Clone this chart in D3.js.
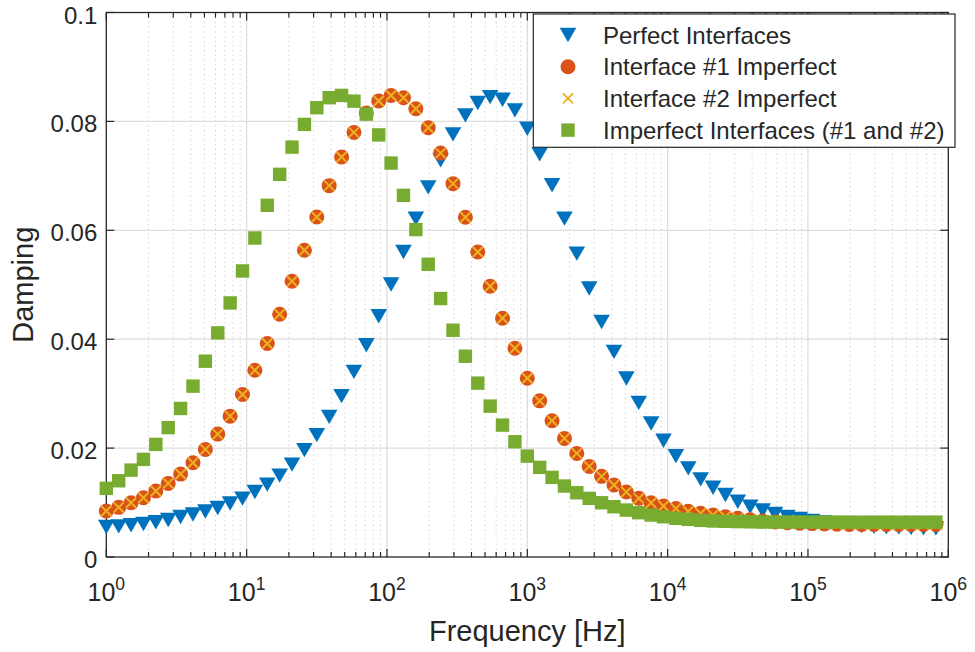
<!DOCTYPE html>
<html>
<head>
<meta charset="utf-8">
<script src="https://cdn.jsdelivr.net/npm/d3@7/dist/d3.min.js"></script>
<style>
  body { margin: 0; background: #fff; }
  svg text { font-family: "Liberation Sans", Arial, sans-serif; fill: #262626; }
</style>
</head>
<body>
<div id="chart"></div>
<script>
// frequencies [Hz], log spaced
var freq = [
  1, 1.2253, 1.5013, 1.8395, 2.2540, 2.7618, 3.3839, 4.1462, 5.0802, 6.2247,
  7.6270, 9.3452, 11.450, 14.030, 17.191, 21.064, 25.809, 31.623, 38.747, 47.476,
  58.171, 71.276, 87.333, 107.01, 131.11, 160.65, 196.84, 241.19, 295.52, 362.10,
  443.67, 543.62, 666.09, 816.15, 1000, 1225.3, 1501.3, 1839.5, 2254.0, 2761.8,
  3383.9, 4146.2, 5080.2, 6224.7, 7627.0, 9345.2, 11450, 14030, 17191, 21064,
  25809, 31623, 38747, 47476, 58171, 71276, 87333, 107010, 131110, 160650,
  196840, 241190, 295520, 362100, 443670, 543620, 666090, 816150
];

var perfect = [
  0.00550, 0.00563, 0.00582, 0.00606, 0.00637, 0.00679, 0.00734, 0.00780, 0.00835, 0.00899,
  0.00982, 0.01073, 0.01193, 0.01330, 0.01495, 0.01697, 0.01963, 0.02239, 0.02574, 0.02954,
  0.03400, 0.03890, 0.04422, 0.05004, 0.05602, 0.06215, 0.06789, 0.07284, 0.07761, 0.08110,
  0.08339, 0.08446, 0.08398, 0.08202, 0.07866, 0.07394, 0.06826, 0.06215, 0.05572, 0.04930,
  0.04317, 0.03767, 0.03279, 0.02831, 0.02453, 0.02134, 0.01853, 0.01628, 0.01426, 0.01272,
  0.01138, 0.01015, 0.00923, 0.00853, 0.00789, 0.00734, 0.00697, 0.00661, 0.00633, 0.00606,
  0.00587, 0.00569, 0.00556, 0.00547, 0.00539, 0.00532, 0.00528, 0.00525
];

var interface1 = [
  0.00844, 0.00912, 0.00996, 0.01088, 0.01211, 0.01352, 0.01523, 0.01730, 0.01976, 0.02257,
  0.02587, 0.02985, 0.03431, 0.03921, 0.04459, 0.05064, 0.05633, 0.06244, 0.06820, 0.07345,
  0.07798, 0.08152, 0.08376, 0.08477, 0.08435, 0.08233, 0.07884, 0.07418, 0.06857, 0.06239,
  0.05602, 0.04972, 0.04385, 0.03835, 0.03284, 0.02868, 0.02501, 0.02178, 0.01903, 0.01664,
  0.01481, 0.01321, 0.01193, 0.01077, 0.00996, 0.00936, 0.00890, 0.00839, 0.00802, 0.00771,
  0.00739, 0.00710, 0.00684, 0.00661, 0.00642, 0.00629, 0.00620, 0.00613, 0.00606, 0.00602,
  0.00598, 0.00596, 0.00596, 0.00596, 0.00596, 0.00596, 0.00596, 0.00596
];

// interface #2 sits exactly on top of interface #1 in the figure
var interface2 = interface1.slice();

var bothImperfect = [
  0.01261, 0.01400, 0.01596, 0.01793, 0.02068, 0.02376, 0.02728, 0.03138, 0.03596, 0.04116,
  0.04666, 0.05253, 0.05859, 0.06459, 0.07028, 0.07528, 0.07945, 0.08251, 0.08435, 0.08477,
  0.08372, 0.08134, 0.07752, 0.07235, 0.06642, 0.06013, 0.05376, 0.04747, 0.04165, 0.03688,
  0.03193, 0.02771, 0.02422, 0.02116, 0.01853, 0.01646, 0.01462, 0.01303, 0.01180, 0.01077,
  0.00996, 0.00923, 0.00862, 0.00813, 0.00771, 0.00739, 0.00710, 0.00692, 0.00673, 0.00661,
  0.00655, 0.00650, 0.00646, 0.00642, 0.00642, 0.00642, 0.00642, 0.00641, 0.00641, 0.00641,
  0.00640, 0.00640, 0.00640, 0.00640, 0.00640, 0.00640, 0.00640, 0.00640
];

var seriesNames = ["Perfect Interfaces", "Interface #1 Imperfect", "Interface #2 Imperfect", "Imperfect Interfaces (#1 and #2)"];
var xTicks = [1, 10, 100, 1000, 10000, 100000, 1000000];
var xTickExp = ["0", "1", "2", "3", "4", "5", "6"];
var yTicks = [0, 0.02, 0.04, 0.06, 0.08, 0.1];
var yTickLabels = ["0", "0.02", "0.04", "0.06", "0.08", "0.1"];

var width = 975, height = 652;
var margin = { top: 12.5, right: 26.7, bottom: 95, left: 106.3 };
var graphWidth = width - margin.left - margin.right;
var graphHeight = height - margin.top - margin.bottom;

var axisColor = "#262626";
var colors = ["#0072BD", "#D95319", "#EDB120", "#77AC30"];

var svg = d3.select("#chart")
    .append("svg")
    .attr("width", width)
    .attr("height", height);

var g = svg.append("g")
    .attr("transform", `translate(${margin.left},${margin.top})`);

var x = d3.scaleLog()
    .domain([1, 1e6])
    .range([0, graphWidth]);

var y = d3.scaleLinear()
    .domain([0, 0.1])
    .range([graphHeight, 0]);

var minorTicks = x.ticks().filter(d => xTicks.indexOf(d) < 0);

// minor grid (dotted)
g.append("g").selectAll("line")
    .data(minorTicks)
    .join("line")
    .attr("x1", d => x(d)).attr("x2", d => x(d))
    .attr("y1", 0).attr("y2", graphHeight)
    .attr("stroke", "#cccccc")
    .attr("stroke-width", 1)
    .attr("stroke-dasharray", "1.2,3.5");

// major grid
g.append("g").selectAll("line")
    .data(xTicks.slice(1, -1))
    .join("line")
    .attr("x1", d => x(d)).attr("x2", d => x(d))
    .attr("y1", 0).attr("y2", graphHeight)
    .attr("stroke", "#dedede")
    .attr("stroke-width", 1.3);

g.append("g").selectAll("line")
    .data(yTicks.slice(1, -1))
    .join("line")
    .attr("x1", 0).attr("x2", graphWidth)
    .attr("y1", d => y(d)).attr("y2", d => y(d))
    .attr("stroke", "#dedede")
    .attr("stroke-width", 1.3);

// ticks, pointing inward on all four sides
var ticks = g.append("g").attr("stroke", axisColor).attr("stroke-width", 1.2);
xTicks.forEach(function(d) {
    ticks.append("line").attr("x1", x(d)).attr("x2", x(d)).attr("y1", graphHeight).attr("y2", graphHeight - 8);
    ticks.append("line").attr("x1", x(d)).attr("x2", x(d)).attr("y1", 0).attr("y2", 8);
});
minorTicks.forEach(function(d) {
    ticks.append("line").attr("x1", x(d)).attr("x2", x(d)).attr("y1", graphHeight).attr("y2", graphHeight - 5);
    ticks.append("line").attr("x1", x(d)).attr("x2", x(d)).attr("y1", 0).attr("y2", 5);
});
yTicks.forEach(function(d) {
    ticks.append("line").attr("x1", 0).attr("x2", 8).attr("y1", y(d)).attr("y2", y(d));
    ticks.append("line").attr("x1", graphWidth).attr("x2", graphWidth - 8).attr("y1", y(d)).attr("y2", y(d));
});

// axes box
g.append("rect")
    .attr("width", graphWidth)
    .attr("height", graphHeight)
    .attr("fill", "none")
    .attr("stroke", axisColor)
    .attr("stroke-width", 1.3);

// tick labels
g.append("g").selectAll("text")
    .data(yTicks)
    .join("text")
    .attr("x", -9)
    .attr("y", d => y(d) + 11)
    .attr("text-anchor", "end")
    .style("font-size", "24px")
    .text((d, i) => yTickLabels[i]);

var xl = g.append("g").selectAll("text")
    .data(xTicks)
    .join("text")
    .attr("x", d => x(d))
    .attr("y", graphHeight + 44)
    .attr("text-anchor", "middle")
    .style("font-size", "25px");
xl.append("tspan").text("10");
xl.append("tspan")
    .attr("dy", -11)
    .style("font-size", "17.5px")
    .text((d, i) => xTickExp[i]);

// axis labels
g.append("text")
    .attr("x", graphWidth / 2)
    .attr("y", graphHeight + 84)
    .attr("text-anchor", "middle")
    .style("font-size", "29px")
    .text("Frequency [Hz]");

g.append("text")
    .attr("transform", `translate(${33 - margin.left},${graphHeight / 2}) rotate(-90)`)
    .attr("text-anchor", "middle")
    .style("font-size", "29px")
    .text("Damping");

// markers
var triPath = "M-8.3,-7.2 L8.3,-7.2 L0,7.2 Z";
var crossPath = "M-5,-5 L5,5 M-5,5 L5,-5";

function drawSeries(values, type, color) {
    var layer = g.append("g");
    var pts = freq.map((f, i) => ({ f: f, v: values[i] }));
    if (type === "tri") {
        layer.selectAll("path").data(pts).join("path")
            .attr("transform", d => `translate(${x(d.f)},${y(d.v)})`)
            .attr("d", triPath)
            .attr("fill", color);
    } else if (type === "circle") {
        layer.selectAll("circle").data(pts).join("circle")
            .attr("cx", d => x(d.f)).attr("cy", d => y(d.v))
            .attr("r", 7.5)
            .attr("fill", color);
    } else if (type === "cross") {
        layer.selectAll("path").data(pts).join("path")
            .attr("transform", d => `translate(${x(d.f)},${y(d.v)})`)
            .attr("d", crossPath)
            .attr("stroke", color)
            .attr("stroke-width", 2)
            .attr("fill", "none");
    } else {
        layer.selectAll("rect").data(pts).join("rect")
            .attr("x", d => x(d.f) - 6.7).attr("y", d => y(d.v) - 6.7)
            .attr("width", 13.4).attr("height", 13.4)
            .attr("fill", color);
    }
}

var types = ["tri", "circle", "cross", "square"];
drawSeries(perfect, types[0], colors[0]);
drawSeries(interface1, types[1], colors[1]);
drawSeries(interface2, types[2], colors[2]);
drawSeries(bothImperfect, types[3], colors[3]);

// legend
var legend = svg.append("g");
legend.append("rect")
    .attr("x", 533.3).attr("y", 14)
    .attr("width", 421.7).attr("height", 133.3)
    .attr("fill", "#fff")
    .attr("stroke", axisColor)
    .attr("stroke-width", 1.2);

seriesNames.forEach(function(name, i) {
    var cy = 35 + i * 31.7;
    var t = types[i];
    if (t === "tri") {
        legend.append("path").attr("transform", `translate(568,${cy})`).attr("d", triPath).attr("fill", colors[i]);
    } else if (t === "circle") {
        legend.append("circle").attr("cx", 568).attr("cy", cy).attr("r", 7.5).attr("fill", colors[i]);
    } else if (t === "cross") {
        legend.append("path").attr("transform", `translate(568,${cy})`).attr("d", crossPath)
            .attr("stroke", colors[i]).attr("stroke-width", 2).attr("fill", "none");
    } else {
        legend.append("rect").attr("x", 561.3).attr("y", cy - 6.7).attr("width", 13.4).attr("height", 13.4).attr("fill", colors[i]);
    }
    legend.append("text")
        .attr("x", 603)
        .attr("y", cy + 8.5)
        .style("font-size", "24px")
        .text(name);
});
</script>
</body>
</html>
